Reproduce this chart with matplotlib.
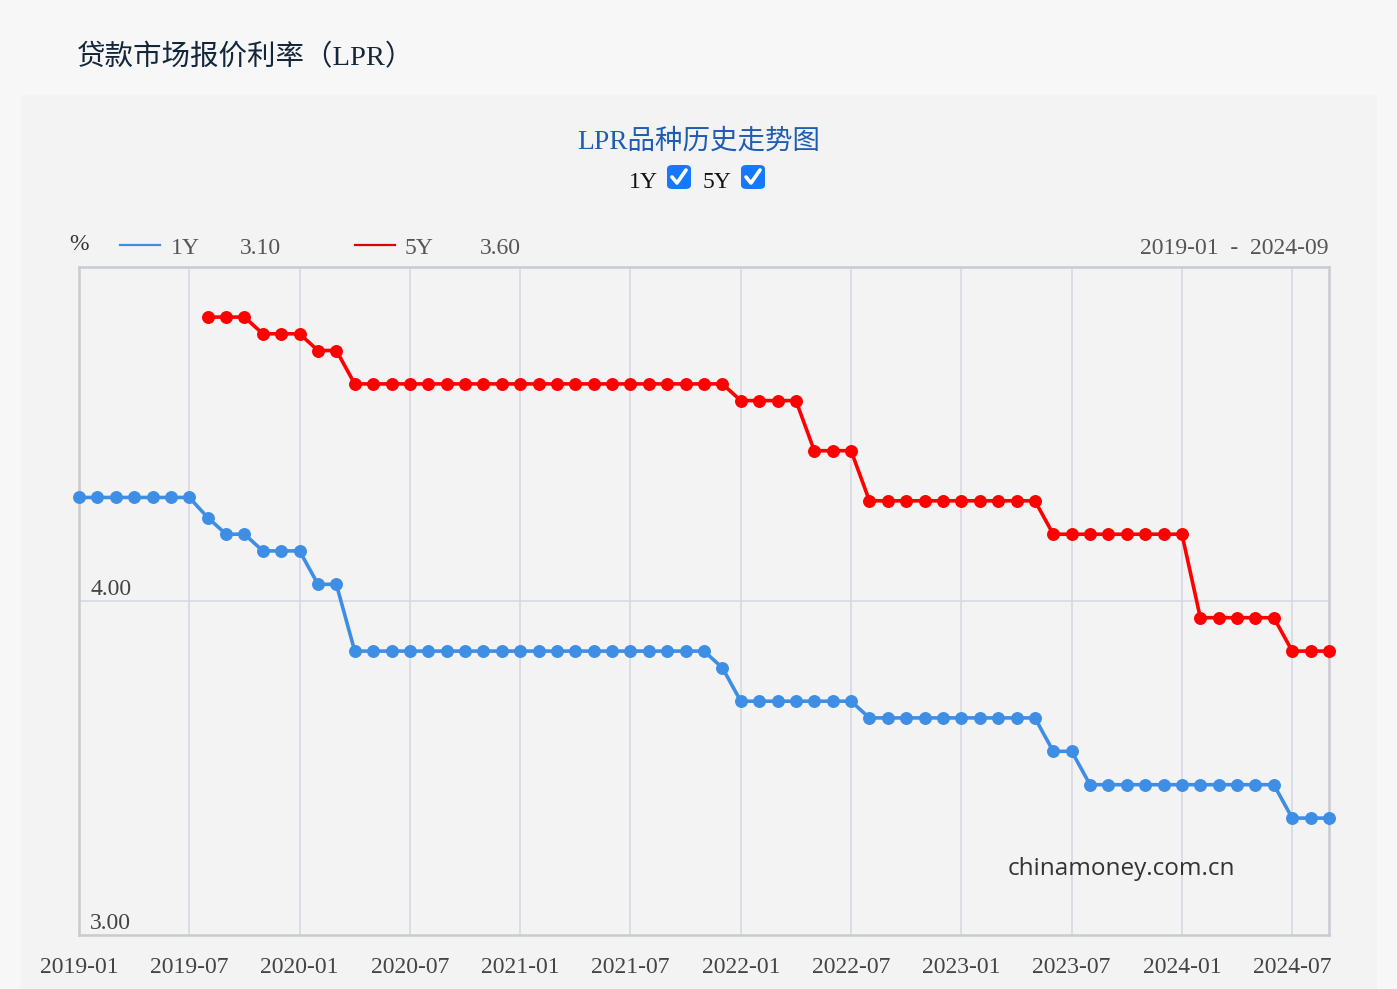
import numpy as np
import pandas as pd
import matplotlib
matplotlib.use("Agg")
import matplotlib.pyplot as plt
from matplotlib.patches import Rectangle, FancyBboxPatch
from matplotlib.lines import Line2D

# month categories, 2019-01 .. 2024-10 (the last point lies past the visible range)
months = [str(p) for p in pd.period_range("2019-01", "2024-10", freq="M")]
tick_labels = ["2019-01", "2019-07", "2020-01", "2020-07", "2021-01", "2021-07",
               "2022-01", "2022-07", "2023-01", "2023-07", "2024-01", "2024-07"]

# 1Y LPR, %
lpr_1y = [4.31, 4.31, 4.31, 4.31, 4.31, 4.31, 4.31, 4.25, 4.20, 4.20,
          4.15, 4.15, 4.15, 4.05, 4.05, 3.85, 3.85, 3.85, 3.85, 3.85,
          3.85, 3.85, 3.85, 3.85, 3.85, 3.85, 3.85, 3.85, 3.85, 3.85,
          3.85, 3.85, 3.85, 3.85, 3.85, 3.80, 3.70, 3.70, 3.70, 3.70,
          3.70, 3.70, 3.70, 3.65, 3.65, 3.65, 3.65, 3.65, 3.65, 3.65,
          3.65, 3.65, 3.65, 3.55, 3.55, 3.45, 3.45, 3.45, 3.45, 3.45,
          3.45, 3.45, 3.45, 3.45, 3.45, 3.45, 3.35, 3.35, 3.35, 3.10]

# 5Y LPR, % (series begins 2019-08)
lpr_5y = [np.nan, np.nan, np.nan, np.nan, np.nan, np.nan, np.nan, 4.85, 4.85, 4.85,
          4.80, 4.80, 4.80, 4.75, 4.75, 4.65, 4.65, 4.65, 4.65, 4.65,
          4.65, 4.65, 4.65, 4.65, 4.65, 4.65, 4.65, 4.65, 4.65, 4.65,
          4.65, 4.65, 4.65, 4.65, 4.65, 4.65, 4.60, 4.60, 4.60, 4.60,
          4.45, 4.45, 4.45, 4.30, 4.30, 4.30, 4.30, 4.30, 4.30, 4.30,
          4.30, 4.30, 4.30, 4.20, 4.20, 4.20, 4.20, 4.20, 4.20, 4.20,
          4.20, 3.95, 3.95, 3.95, 3.95, 3.95, 3.85, 3.85, 3.85, 3.60]

latest_1y = "3.10"
latest_5y = "3.60"
range_text = "2019-01  -  2024-09"
last_shown = "2024-09"

W, H = 1397, 989
serif = ["Liberation Serif", "Noto Sans CJK SC"]
blue = "#3f8ee6"
red = "#ff0000"
grid_c = "#d6d9e0"
spine_c = "#c8cbd3"
fs = 17


def px(x, y):
    return x / W, 1 - y / H


fig = plt.figure(figsize=(W / 100, H / 100), dpi=100, facecolor="#f7f7f7")

# inner panel
fig.patches.append(Rectangle(px(21, 989), (1377 - 21) / W, (989 - 95) / H,
                             transform=fig.transFigure, facecolor="#f3f3f3",
                             edgecolor="none", zorder=-5))

fig.text(*px(77, 58), "贷款市场报价利率（LPR）", family=serif, fontsize=20.5,
         color="#14263a", va="center", ha="left")
fig.text(*px(699, 142), "LPR品种历史走势图", family=serif, fontsize=19.8,
         color="#1f5db4", va="center", ha="center")

# checkboxes
for lab, lx, bx in [("1Y", 643, 667), ("5Y", 717, 741)]:
    fig.text(*px(lx, 183), lab, family=serif, fontsize=fs, color="#111111",
             va="center", ha="center")
    x0, y0 = px(bx, 189)
    fig.patches.append(FancyBboxPatch((x0, y0), 24 / W, 24 / H,
                                      boxstyle="round,pad=0,rounding_size=0.004",
                                      transform=fig.transFigure,
                                      facecolor="#1677ff", edgecolor="none", zorder=2))
    cx = [bx + 5, bx + 10, bx + 19]
    cy = [177, 183, 170]
    fig.lines.append(Line2D([c / W for c in cx], [1 - c / H for c in cy],
                            transform=fig.transFigure, color="white", lw=2.6,
                            solid_capstyle="round", zorder=3))

# legend row
fig.text(*px(79, 244), "%", family=serif, fontsize=fs, color="#333333",
         va="center", ha="center")
fig.lines.append(Line2D([120 / W, 160 / W], [1 - 245 / H] * 2,
                        transform=fig.transFigure, color=blue, lw=1.6))
fig.text(*px(171, 248), "1Y", family=serif, fontsize=fs, color="#555555", va="center")
fig.text(*px(240, 248), latest_1y, family=serif, fontsize=fs, color="#555555", va="center")
fig.lines.append(Line2D([355 / W, 395 / W], [1 - 245 / H] * 2,
                        transform=fig.transFigure, color="#e00000", lw=1.6))
fig.text(*px(405, 248), "5Y", family=serif, fontsize=fs, color="#555555", va="center")
fig.text(*px(480, 248), latest_5y, family=serif, fontsize=fs, color="#555555", va="center")
fig.text(*px(1329, 248), range_text, family=serif, fontsize=fs, color="#555555",
         va="center", ha="right")

# plot area
ax = fig.add_axes([79 / W, (H - 935) / H, (1329 - 79) / W, (935 - 267) / H])
ax.set_zorder(3)
ax.set_facecolor("none")
x = np.arange(len(months))
xmax = months.index(last_shown)
ax.set_xlim(0, xmax)
ax.set_ylim(3.0, 5.0)

tick_pos = [months.index(t) for t in tick_labels]
for t in tick_pos[1:]:
    ax.axvline(t, color=grid_c, lw=1.2, zorder=1)
ax.axhline(4.0, color=grid_c, lw=1.2, zorder=1)

for vals, col in [(lpr_1y, blue), (lpr_5y, red)]:
    v = np.array(vals)
    ax.plot(x, v, color=col, lw=2.6, zorder=3)
    ax.plot(x[:xmax + 1], v[:xmax + 1], "o", color=col, markersize=8.3,
            clip_on=False, zorder=4)

for s in ax.spines.values():
    s.set_color(spine_c)
    s.set_linewidth(1.8)

ax.set_xticks(tick_pos)
ax.set_xticklabels(tick_labels, family=serif, fontsize=fs, color="#444444")
ax.tick_params(axis="x", length=0, pad=16)
ax.set_yticks([])

for yv, lab in [(4.0, "4.00"), (3.0, "3.00")]:
    ax.text(0.009, yv + 0.002, lab, transform=ax.get_yaxis_transform(), family=serif,
            fontsize=fs, color="#444444", va="bottom", ha="left")

fig.text(*px(1121, 869), "chinamoney.com.cn", family=["Open Sans", "DejaVu Sans"],
         fontsize=17.5, color="#333333", va="center", ha="center")

fig.savefig("out.png", dpi=100, facecolor=fig.get_facecolor())
